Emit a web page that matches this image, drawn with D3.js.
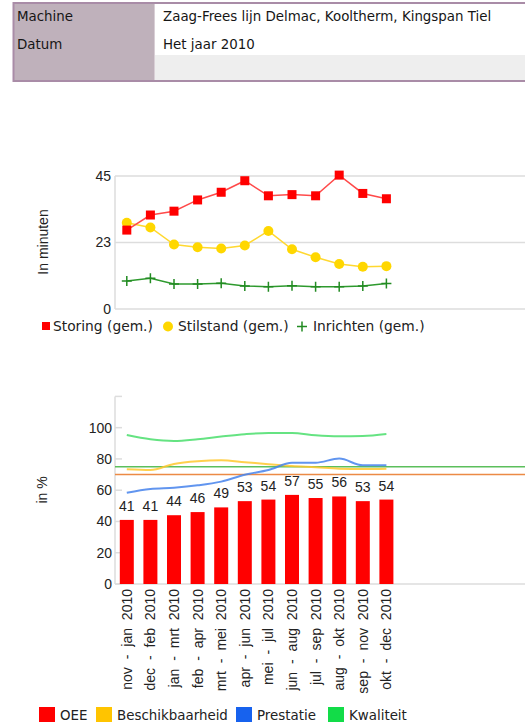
<!DOCTYPE html>
<html>
<head>
<meta charset="utf-8">
<script src="https://cdn.jsdelivr.net/npm/d3@7"></script>
<style>
  html, body { margin: 0; padding: 0; background: #fff; }
  svg { display: block; }
  .num { font-family: "Liberation Sans", Arial, sans-serif; font-size: 14px; fill: #222; }
  .leg { font-family: "DejaVu Sans", Verdana, sans-serif; font-size: 13.4px; fill: #222; }
  .legTop { font-size: 13.8px; }
  .hdr { font-family: "DejaVu Sans", Verdana, sans-serif; font-size: 13.4px; fill: #161616; }
</style>
</head>
<body>
<svg id="chart" width="525" height="722"></svg>
<script>
// Header rows
const headerLabels = ["Machine", "Datum"];
const headerValues = ["Zaag-Frees lijn Delmac, Kooltherm, Kingspan Tiel", "Het jaar 2010"];

// Period categories (shared by both charts)
const periods = ["nov - jan 2010", "dec - feb 2010", "jan - mrt 2010", "feb - apr 2010",
                 "mrt - mei 2010", "apr - jun 2010", "mei - jul 2010", "jun - aug 2010",
                 "jul - sep 2010", "aug - okt 2010", "sep - nov 2010", "okt - dec 2010"];

// Average minutes per stop type
const storing    = [26.7, 31.8, 33.1, 36.9, 39.5, 43.4, 38.3, 38.7, 38.3, 45.3, 39.1, 37.3];
const stilstand  = [29.2, 27.6, 21.8, 20.9, 20.5, 21.5, 26.4, 20.2, 17.5, 15.2, 14.3, 14.5];
const inrichten  = [9.5, 10.4, 8.5, 8.5, 8.7, 7.8, 7.5, 7.9, 7.5, 7.5, 7.8, 8.6];
const minuteTicks = [0, 22.5, 45];

// Percentages
const oee             = [41, 41, 44, 46, 49, 53, 54, 57, 55, 56, 53, 54];
const beschikbaarheid = [73.4, 72.9, 76.8, 78.5, 79.1, 77.9, 76.6, 75.5, 74.7, 73.8, 73.6, 73.8];
const prestatie       = [58.4, 60.8, 61.6, 63.1, 65.5, 69.9, 72.9, 77.6, 77.6, 80.2, 75.9, 75.9];
const kwaliteit       = [95.3, 92.6, 91.5, 92.6, 94.3, 95.8, 96.6, 96.6, 95.1, 94.5, 94.7, 96.0];
const percentTicks = [0, 20, 40, 60, 80, 100];
const targetLines = [75, 70];

const svg = d3.select("#chart");

// ---------- header table ----------
const hdr = svg.append("g");
hdr.append("rect").attr("x", 14).attr("y", 4).attr("width", 140).attr("height", 76).attr("fill", "#bfb1bb");
hdr.append("rect").attr("x", 154).attr("y", 4).attr("width", 380).attr("height", 51).attr("fill", "#ffffff");
hdr.append("rect").attr("x", 154).attr("y", 55).attr("width", 380).attr("height", 25).attr("fill", "#eeeeee");
hdr.append("line").attr("x1", 154.5).attr("x2", 154.5).attr("y1", 4).attr("y2", 80).attr("stroke", "#d9cfd6");
hdr.append("rect").attr("x", 13.5).attr("y", 3).attr("width", 530).attr("height", 78)
   .attr("fill", "none").attr("stroke", "#a98ca7").attr("stroke-width", 2);
headerLabels.forEach((t, i) => {
  hdr.append("text").attr("class", "hdr").attr("x", 17).attr("y", 20.5 + i * 28.5).text(t);
  hdr.append("text").attr("class", "hdr").attr("x", 163).attr("y", 20.5 + i * 28.5).text(headerValues[i]);
});

// ---------- shared x scale ----------
const x = d3.scaleBand().domain(periods).range([115, 398.2]).paddingInner(0.407).paddingOuter(0.2035);
const cx = d => x(d) + x.bandwidth() / 2;
const plotRight = 525;

// ---------- top chart: minutes ----------
const yTop = d3.scaleLinear().domain([0, 45]).range([309, 176]);
const gTop = svg.append("g");

gTop.selectAll("line.grid").data(minuteTicks).join("line")
  .attr("x1", 115).attr("x2", plotRight)
  .attr("y1", d => yTop(d)).attr("y2", d => yTop(d))
  .attr("stroke", "#dddddd").attr("stroke-width", 1.5);
gTop.append("line").attr("x1", 115).attr("x2", 115).attr("y1", yTop(45)).attr("y2", yTop(0))
  .attr("stroke", "#dddddd").attr("stroke-width", 1.5);

const axTop = d3.axisLeft(yTop).tickValues(minuteTicks).tickFormat(d => String(Math.round(d))).tickSize(0).tickPadding(4);
const gAxTop = gTop.append("g").attr("transform", "translate(115,0)").call(axTop);
gAxTop.select(".domain").remove();
gAxTop.selectAll("text").attr("class", "num").attr("fill", null).attr("font-size", null).attr("font-family", null);

gTop.append("text").attr("class", "num")
  .attr("transform", `translate(48,${242}) rotate(-90)`)
  .attr("text-anchor", "middle").text("In minuten");

const lineTop = d3.line().x((d, i) => cx(periods[i])).y(d => yTop(d));

// Inrichten (green, plus markers)
gTop.append("path").datum(inrichten).attr("d", lineTop)
  .attr("fill", "none").attr("stroke", "#2e9a2e").attr("stroke-width", 1.5);
gTop.selectAll("path.plus").data(inrichten).join("path")
  .attr("d", (d, i) => {
    const px = cx(periods[i]), py = yTop(d);
    return `M${px - 5},${py}H${px + 5}M${px},${py - 5}V${py + 5}`;
  })
  .attr("stroke", "#228b22").attr("stroke-width", 1.5).attr("fill", "none");

// Stilstand (yellow, circles)
gTop.append("path").datum(stilstand).attr("d", lineTop)
  .attr("fill", "none").attr("stroke", "#ffd830").attr("stroke-width", 1.5);
gTop.selectAll("circle.stil").data(stilstand).join("circle")
  .attr("cx", (d, i) => cx(periods[i])).attr("cy", d => yTop(d)).attr("r", 5)
  .attr("fill", "#ffd700");

// Storing (red, squares)
gTop.append("path").datum(storing).attr("d", lineTop)
  .attr("fill", "none").attr("stroke", "#ff4a4a").attr("stroke-width", 1.5);
gTop.selectAll("rect.stor").data(storing).join("rect")
  .attr("x", (d, i) => cx(periods[i]) - 4.5).attr("y", d => yTop(d) - 4.5)
  .attr("width", 9).attr("height", 9).attr("fill", "#ff0000");

// legend
const lt = gTop.append("g");
lt.append("rect").attr("x", 42).attr("y", 322).attr("width", 8).attr("height", 8).attr("fill", "#ff0000");
lt.append("text").attr("class", "leg legTop").attr("x", 53).attr("y", 331).text("Storing (gem.)");
lt.append("circle").attr("cx", 168).attr("cy", 326.5).attr("r", 5).attr("fill", "#ffd700");
lt.append("text").attr("class", "leg legTop").attr("x", 178).attr("y", 331).text("Stilstand (gem.)");
lt.append("path").attr("d", "M297,326.5H307M302,321.5V331.5").attr("stroke", "#228b22").attr("stroke-width", 1.5);
lt.append("text").attr("class", "leg legTop").attr("x", 313).attr("y", 331).text("Inrichten (gem.)");

// ---------- bottom chart: percentages ----------
const yBot = d3.scaleLinear().domain([0, 120]).range([584, 396.4]);
const gBot = svg.append("g");

gBot.append("line").attr("x1", 115).attr("x2", plotRight).attr("y1", 584).attr("y2", 584)
  .attr("stroke", "#dddddd").attr("stroke-width", 1.5);
gBot.append("line").attr("x1", 115).attr("x2", 115).attr("y1", yBot(120)).attr("y2", 584)
  .attr("stroke", "#dddddd").attr("stroke-width", 1.5);
gBot.selectAll("line.tk").data(percentTicks.concat([120])).join("line")
  .attr("x1", 115).attr("x2", 122).attr("y1", d => yBot(d)).attr("y2", d => yBot(d))
  .attr("stroke", "#dddddd").attr("stroke-width", 1.5);

const axBot = d3.axisLeft(yBot).tickValues(percentTicks).tickSize(0).tickPadding(3);
const gAxBot = gBot.append("g").attr("transform", "translate(115,0)").call(axBot);
gAxBot.select(".domain").remove();
gAxBot.selectAll("text").attr("class", "num").attr("fill", null).attr("font-size", null).attr("font-family", null);

gBot.append("text").attr("class", "num")
  .attr("transform", `translate(47,${490}) rotate(-90)`)
  .attr("text-anchor", "middle").text("in %");

// bars
gBot.selectAll("rect.bar").data(oee).join("rect")
  .attr("x", (d, i) => x(periods[i])).attr("width", x.bandwidth())
  .attr("y", d => yBot(d)).attr("height", d => 584 - yBot(d))
  .attr("fill", "#ff0000");
gBot.selectAll("text.val").data(oee).join("text")
  .attr("class", "num").attr("text-anchor", "middle")
  .attr("font-size", "14.5px")
  .attr("x", (d, i) => cx(periods[i])).attr("y", d => yBot(d) - 9)
  .text(d => d);

// target lines
const targetColors = ["#5cbf5c", "#ec8a45"];
gBot.selectAll("line.target").data(targetLines).join("line")
  .attr("x1", 115).attr("x2", plotRight)
  .attr("y1", d => yBot(d)).attr("y2", d => yBot(d))
  .attr("stroke", (d, i) => targetColors[i]).attr("stroke-width", 1.5);

// smoothed component curves
const curveLine = d3.line().x((d, i) => cx(periods[i])).y(d => yBot(d)).curve(d3.curveMonotoneX);
[[kwaliteit, "#4ade6c"], [beschikbaarheid, "#ffc82e"], [prestatie, "#4583ec"]].forEach(([s, c]) => {
  gBot.append("path").datum(s).attr("d", curveLine)
    .attr("fill", "none").attr("stroke", c).attr("stroke-width", 2).attr("stroke-opacity", 0.85);
});

// x labels
gBot.selectAll("text.xl").data(periods).join("text")
  .attr("class", "num").attr("text-anchor", "end")
  .attr("word-spacing", "4px")
  .attr("transform", d => `translate(${cx(d) + 5},${589}) rotate(-90)`)
  .text(d => d);

// legend
const legendItems = ["OEE", "Beschikbaarheid", "Prestatie", "Kwaliteit"];
const legendColors = ["#ff0000", "#ffc400", "#1762ee", "#12dc48"];
const legendX = [39, 96, 236, 328];
const lb = gBot.append("g");
legendItems.forEach((t, i) => {
  lb.append("rect").attr("x", legendX[i]).attr("y", 707).attr("width", 16).attr("height", 16).attr("fill", legendColors[i]);
  lb.append("text").attr("class", "leg").attr("x", legendX[i] + 21).attr("y", 720).text(t);
});
</script>
</body>
</html>
